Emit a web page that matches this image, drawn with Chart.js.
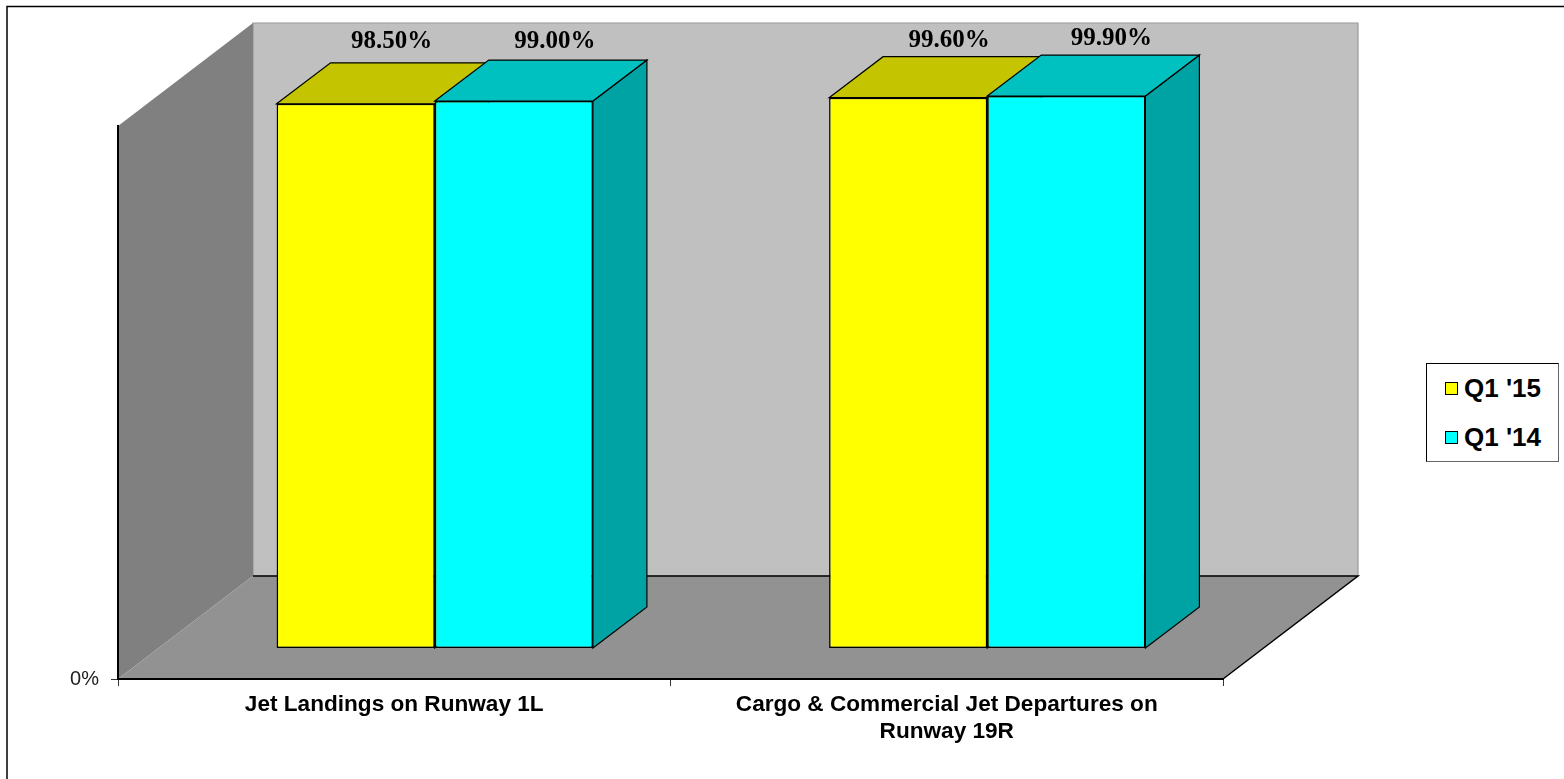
<!DOCTYPE html>
<html>
<head>
<meta charset="utf-8">
<style>
  body { margin: 0; background: #fff; }
  #wrap { position: relative; width: 1564px; height: 779px; overflow: hidden; }
  #legend { position: absolute; left: 1426px; top: 363px; width: 133px; height: 99px; box-sizing: border-box;
            border: 1px solid #000; border-right-color: #666; border-bottom-color: #666; background: #fff;
            font: bold 26px "Liberation Sans", Arial, sans-serif; color: #000; }
  #legend div { position: absolute; left: 37px; white-space: nowrap; line-height: 30px; }
  #legend i { position: absolute; left: -19px; top: 9px; width: 11px; height: 11px; border: 1.5px solid #000; }
</style>
</head>
<body>
<div id="wrap">
  <canvas id="chart" width="1564" height="779"></canvas>
  <div id="legend"></div>
</div>
<script src="https://cdn.jsdelivr.net/npm/chart.js"></script>
<script>
const categories = ["Jet Landings on Runway 1L", ["Cargo & Commercial Jet Departures on", "Runway 19R"]];
const seriesNames = ["Q1 '15", "Q1 '14"];
const q115 = [98.5, 99.6];
const q114 = [99.0, 99.9];
const yTicks = [0];

// front, top and side colours per series
const frontColors = ["#ffff00", "#00ffff"];
const topColors = ["#c4c400", "#00c0c0"];
const sideColors = ["#a3a300", "#00a3a3"];

// fake 3d: how far the back wall sits from the front plane
const depthX = 135, depthY = -103;
// bars stand part of the way in and are part of the way deep
const barShiftX = 40.5, barShiftY = -30.5;
const barDepthX = 54, barDepthY = -41;

// small hand nudges for the value labels, series by category
const labelNudgeX = [[-5, 0], [0, 4]];
const labelNudgeY = [[-2, 3], [1, 2]];

function poly(ctx, pts, fill, stroke) {
    ctx.beginPath();
    pts.forEach((p, i) => i ? ctx.lineTo(p[0], p[1]) : ctx.moveTo(p[0], p[1]));
    ctx.closePath();
    ctx.fillStyle = fill;
    ctx.fill();
    if (stroke) {
        ctx.strokeStyle = stroke;
        ctx.lineWidth = 1.2;
        ctx.stroke();
    }
}

// page frame + back wall, side wall and floor, drawn under the axes
const walls = {
    id: "walls",
    beforeDraw(chart) {
        const { ctx, chartArea: a } = chart;
        ctx.save();
        ctx.strokeStyle = "#000";
        ctx.lineWidth = 1.5;
        ctx.beginPath();
        ctx.moveTo(7, 779);
        ctx.lineTo(7, 6.5);
        ctx.lineTo(1564, 6.5);
        ctx.stroke();

        const bl = a.left + depthX, br = a.right + depthX;
        const bt = a.top + depthY, bb = a.bottom + depthY;
        poly(ctx, [[bl, bt], [br, bt], [br, bb], [bl, bb]], "#c0c0c0", "#999999");
        poly(ctx, [[a.left, a.top], [bl, bt], [bl, bb], [a.left, a.bottom]], "#808080");
        poly(ctx, [[a.left, a.bottom], [bl, bb], [br, bb], [a.right, a.bottom]], "#929292");
        ctx.strokeStyle = "#000";
        ctx.lineWidth = 1.5;
        ctx.beginPath();
        ctx.moveTo(bl, bb);
        ctx.lineTo(br, bb);
        ctx.lineTo(a.right, a.bottom);
        ctx.stroke();
        ctx.restore();
    }
};

// moves the bars back from the front plane and adds their top and side
const bars3d = {
    id: "bars3d",
    beforeDatasetsDraw(chart) {
        const ctx = chart.ctx;
        ctx.save();
        ctx.translate(barShiftX, barShiftY);
        chart.data.datasets.forEach((ds, i) => {
            chart.getDatasetMeta(i).data.forEach(el => {
                const { x, y, base, width } = el.getProps(["x", "y", "base", "width"], true);
                const l = x - width / 2, r = x + width / 2;
                poly(ctx, [[r, y], [r + barDepthX, y + barDepthY], [r + barDepthX, base + barDepthY], [r, base]], sideColors[i], "#000");
                poly(ctx, [[l, y], [l + barDepthX, y + barDepthY], [r + barDepthX, y + barDepthY], [r, y]], topColors[i], "#000");
            });
        });
    },
    afterDatasetsDraw(chart) {
        const ctx = chart.ctx;
        ctx.restore();
        // value labels above the back edge of each bar top
        ctx.save();
        ctx.font = "bold 25px 'Liberation Serif', serif";
        ctx.fillStyle = "#000";
        ctx.textAlign = "center";
        ctx.textBaseline = "middle";
        chart.data.datasets.forEach((ds, i) => {
            chart.getDatasetMeta(i).data.forEach((el, j) => {
                const { x, y } = el.getProps(["x", "y"], true);
                ctx.fillText(ds.data[j].toFixed(2) + "%",
                    x + barShiftX + 41 + labelNudgeX[i][j],
                    y + barShiftY + barDepthY - 19 + labelNudgeY[i][j]);
            });
        });
        ctx.restore();
    }
};

new Chart(document.getElementById("chart").getContext("2d"), {
    type: "bar",
    data: {
        labels: categories,
        datasets: [
            { label: seriesNames[0], data: q115, backgroundColor: frontColors[0], borderColor: "#000", borderWidth: 1.5, borderSkipped: false },
            { label: seriesNames[1], data: q114, backgroundColor: frontColors[1], borderColor: "#000", borderWidth: 1.5, borderSkipped: false }
        ]
    },
    options: {
        responsive: false,
        animation: false,
        categoryPercentage: 0.5725,
        barPercentage: 1,
        layout: { padding: { top: 126, right: 341, left: 0, bottom: 0 } },
        plugins: { legend: { display: false }, tooltip: { enabled: false } },
        scales: {
            x: {
                afterFit(s) { s.height = 100; },
                border: { color: "#000", width: 2 },
                grid: { drawOnChartArea: false, tickLength: 7, color: "#333" },
                ticks: {
                    color: "#000",
                    padding: 5,
                    maxRotation: 0,
                    autoSkip: false,
                    font: { family: "'Liberation Sans', Arial, sans-serif", size: 22.6, weight: "bold", lineHeight: 1.2 }
                }
            },
            y: {
                min: 0,
                max: 100,
                afterFit(s) { s.width = 118; },
                afterBuildTicks(s) { s.ticks = yTicks.map(v => ({ value: v })); },
                border: { color: "#000", width: 2 },
                grid: { drawOnChartArea: false, tickLength: 7, color: "#333" },
                ticks: {
                    color: "#222",
                    padding: 12,
                    callback: v => v + "%",
                    font: { family: "'Liberation Sans', Arial, sans-serif", size: 20 }
                }
            }
        }
    },
    plugins: [walls, bars3d]
});

// legend box
const legend = document.getElementById("legend");
seriesNames.forEach((name, i) => {
    const row = document.createElement("div");
    row.style.top = (9 + i * 49) + "px";
    row.textContent = name;
    const swatch = document.createElement("i");
    swatch.style.background = frontColors[i];
    row.appendChild(swatch);
    legend.appendChild(row);
});
</script>
</body>
</html>
